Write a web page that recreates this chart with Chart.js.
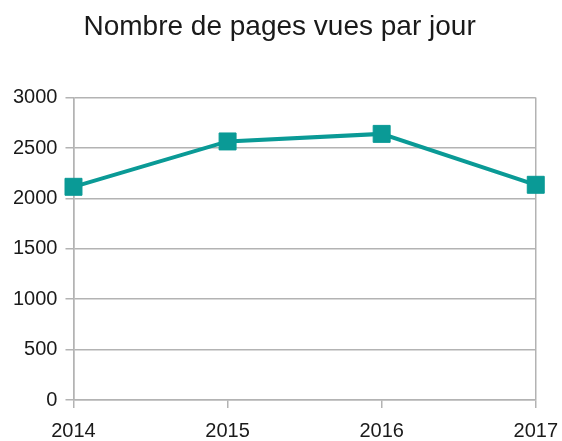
<!DOCTYPE html>
<html>
<head>
<meta charset="utf-8">
<script src="https://cdn.jsdelivr.net/npm/chart.js@4.4.0/dist/chart.umd.min.js"></script>
<style>
  html, body { margin: 0; padding: 0; background: #fff; }
  #wrap { width: 562px; height: 441px; }
</style>
</head>
<body>
<div id="wrap"><canvas id="chart" width="562" height="441"></canvas></div>
<script>
const years = ['2014', '2015', '2016', '2017'];
const pageViews = [2115, 2565, 2640, 2135];
const yTicks = [0, 500, 1000, 1500, 2000, 2500, 3000];

const teal = '#0a9a96';
const gridGrey = '#b3b3b3';
const textColor = '#1a1a1a';
const font = 'Liberation Sans, Arial, sans-serif';

new Chart(document.getElementById('chart'), {
  type: 'line',
  data: {
    labels: years,
    datasets: [{
      label: 'Pages vues',
      data: pageViews,
      borderColor: teal,
      backgroundColor: teal,
      borderWidth: 4,
      pointStyle: 'rect',
      pointRadius: 12,
      pointBorderWidth: 1,
      pointHoverRadius: 12,
      tension: 0
    }]
  },
  options: {
    responsive: false,
    animation: false,
    // ticks padding is counted twice by the scale fit, so the outer pads are trimmed here
    layout: { padding: { left: 5, right: 0, top: 0, bottom: -14 } },
    plugins: {
      legend: { display: false },
      tooltip: { enabled: false },
      title: {
        display: true,
        text: 'Nombre de pages vues par jour ',
        color: textColor,
        font: { family: font, size: 28, weight: 'normal', lineHeight: 1.2 },
        padding: { top: 10, bottom: 54 }
      }
    },
    scales: {
      x: {
        offset: false,
        grid: {
          color: (ctx) => (ctx.index === 0 || ctx.index === years.length - 1) ? gridGrey : 'rgba(0,0,0,0)',
          tickColor: gridGrey,
          tickLength: 8,
          lineWidth: 1.5
        },
        border: { display: true, color: gridGrey, width: 1.5 },
        ticks: {
          color: textColor,
          // tall line box pushes the year labels down without widening the side overflow
          font: { family: font, size: 20, lineHeight: 1.95 },
          padding: 4,
          maxRotation: 0
        }
      },
      y: {
        min: 0,
        max: 3000,
        afterBuildTicks: (axis) => { axis.ticks = yTicks.map(v => ({ value: v })); },
        grid: { color: gridGrey, tickColor: gridGrey, tickLength: 8, lineWidth: 1.5 },
        border: { display: true, color: gridGrey, width: 1.5 },
        ticks: {
          color: textColor,
          font: { family: font, size: 20 },
          padding: 8,
          callback: (v) => String(v)
        }
      }
    }
  }
});
</script>
</body>
</html>
